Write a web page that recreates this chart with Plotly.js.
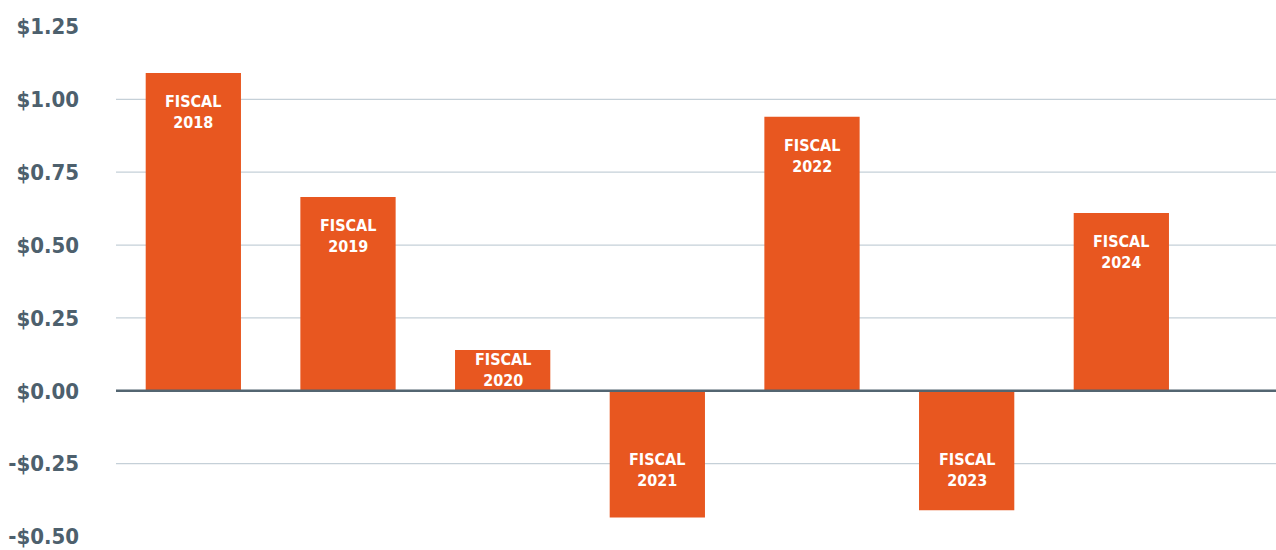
<!DOCTYPE html>
<html>
<head>
<meta charset="utf-8">
<script src="https://cdn.plot.ly/plotly-3.0.1.min.js"></script>
<style>html,body{margin:0;padding:0;background:#fff;}#chart{width:1276px;height:550px;}</style>
</head>
<body>
<div id="chart"></div>
<script>
const years = ["2018", "2019", "2020", "2021", "2022", "2023", "2024"];
const values = [1.09, 0.665, 0.14, -0.435, 0.94, -0.41, 0.61];
const labels = years.map(y => "FISCAL<br>" + y);
const tickVals = [-0.5, -0.25, 0, 0.25, 0.5, 0.75, 1.0, 1.25];
const tickText = ["-$0.50", "-$0.25", "$0.00", "$0.25", "$0.50", "$0.75", "$1.00", "$1.25"];

// pick an installed narrow font if there is one
function hasFont(name) {
  const c = document.createElement('canvas').getContext('2d');
  const s = 'FISCAL $1.25 mmwwii';
  c.font = 'bold 40px monospace'; const a = c.measureText(s).width;
  c.font = 'bold 40px "' + name + '", monospace'; const b = c.measureText(s).width;
  c.font = 'bold 40px serif'; const a2 = c.measureText(s).width;
  c.font = 'bold 40px "' + name + '", serif'; const b2 = c.measureText(s).width;
  return a !== b || a2 !== b2;
}
const narrowCandidates = ["Liberation Sans Narrow", "DejaVu Sans Condensed", "Roboto Condensed", "Open Sans Condensed"];
let narrow = narrowCandidates.find(hasFont);
const FONT = narrow ? '"' + narrow + '", Roboto, sans-serif' : 'Roboto, sans-serif';
const tickSize = narrow === "Liberation Sans Narrow" ? 26 : 22;
const labelSize = narrow === "Liberation Sans Narrow" ? 18 : 16;

const ORANGE = '#E85720';

const trace = {
  type: 'bar',
  x: years,
  y: values,
  marker: {color: ORANGE, line: {width: 0}},
  width: 0.616,
  hoverinfo: 'skip'
};

const annotations = years.map((y, i) => {
  const v = values[i];
  const pos = v > 0 ? Math.max(v - 0.135, v / 2) : -0.27;
  return {
    x: i, y: pos, xref: 'x', yref: 'y',
    text: labels[i], showarrow: false,
    font: {family: FONT, size: labelSize, color: '#ffffff', weight: 'bold'},
    align: 'center', yanchor: 'middle'
  };
});

const gridShapes = tickVals.filter(t => t !== 0 && t !== -0.5 && t !== 1.25).map(t => ({
  type: 'line', xref: 'paper', yref: 'y', x0: 0, x1: 1, y0: t, y1: t,
  line: {color: '#c5d0d8', width: 1.3}, layer: 'below'
}));
gridShapes.push({
  type: 'line', xref: 'paper', yref: 'y', x0: 0, x1: 1, y0: 0, y1: 0,
  line: {color: '#536571', width: 2.5}, layer: 'above'
});

const layout = {
  width: 1276, height: 550,
  margin: {l: 116, r: 0, t: 25, b: 12},
  paper_bgcolor: '#ffffff', plot_bgcolor: '#ffffff',
  showlegend: false,
  xaxis: {
    type: 'category', range: [-0.5, 7.0],
    showticklabels: false, showgrid: false, zeroline: false, showline: false, ticks: ''
  },
  yaxis: {
    range: [-0.505, 1.255],
    tickvals: tickVals, ticktext: tickText,
    showgrid: false, zeroline: false, showline: false, ticks: '',
    ticklabelstandoff: 36,
    tickfont: {family: FONT, size: tickSize, color: '#4d606d', weight: 'bold'}
  },
  shapes: gridShapes,
  annotations: annotations
};

Plotly.newPlot('chart', [trace], layout, {displayModeBar: false, staticPlot: true});
</script>
</body>
</html>
